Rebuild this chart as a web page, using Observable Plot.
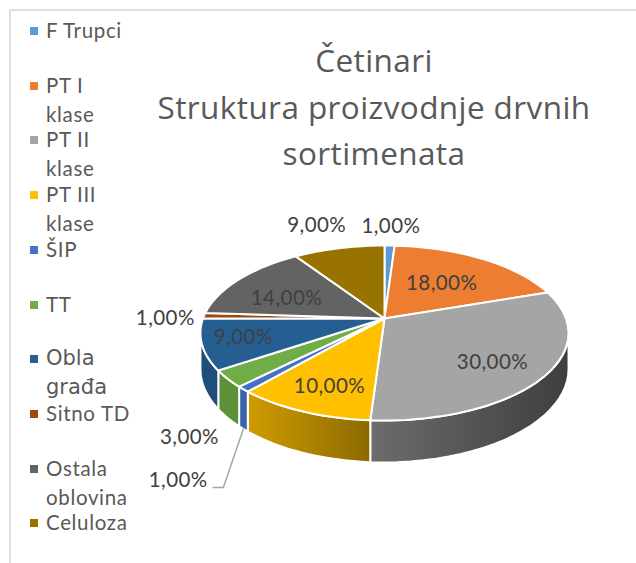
<!DOCTYPE html>
<html><head><meta charset="utf-8">
<script src="https://cdn.jsdelivr.net/npm/d3@7"></script>
<script src="https://cdn.jsdelivr.net/npm/@observablehq/plot@0.6"></script>
<style>
html,body{margin:0;padding:0;background:#fff}
#wrap{position:relative;width:636px;height:563px;overflow:hidden;font-family:Lato,sans-serif;color:#595959}
#wrap svg{position:absolute;left:0;top:0}
#frame{position:absolute;left:9px;top:9px;right:-5px;bottom:-5px;border-left:2px solid #e0e0e0;border-top:2px solid #e0e0e0}
#title{position:absolute;left:124px;width:500px;top:37px;text-align:center;font:31.5px/46.5px "Open Sans",sans-serif;letter-spacing:.4px;color:#595959;margin:0;font-weight:400}
.sw{position:absolute;left:30px;width:8px;height:8px}
.lg{position:absolute;left:46px;font-size:20.5px;letter-spacing:.65px;line-height:29px;white-space:pre}
</style></head><body>
<div id="wrap"><div id="frame"></div><h1 id="title">Četinari<br>Struktura proizvodnje drvnih<br>sortimenata</h1><div id="chart"></div></div>
<script>
// data
const categories = ["F Trupci","PT I klase","PT II klase","PT III klase","ŠIP","TT","Obla građa","Sitno TD","Ostala oblovina","Celuloza"];
const values = [1,18,30,10,1,3,9,1,14,9];
const labels = ["1,00%","18,00%","30,00%","10,00%","1,00%","3,00%","9,00%","1,00%","14,00%","9,00%"];
const colors = ["#5b9bd5","#ed7d31","#a5a5a5","#ffc000","#4472c4","#70ad47","#255e91","#9e480e","#636363","#997300"];
const wallLeft = ["#4a7fb0","#c2652a","#6c6c6c","#cf9c00","#3a62a8","#5c9039","#1e4f7a","#7f3a0b","#505050","#7c5d00"];
const wallRight = ["#4a7fb0","#c2652a","#3e3e3e","#8c6a00","#3a62a8","#5c9039","#1d4e7c","#7f3a0b","#505050","#7c5d00"];
const legendLines = [["F Trupci"],["PT I","klase"],["PT II","klase"],["PT III","klase"],["ŠIP"],["TT"],["Obla","građa"],["Sitno TD"],["Ostala","oblovina"],["Celuloza"]];

// layout (perspective disc and label placement)
const W = 636, H = 563, cx = 384, cy = 318, B = 181.5, A = 85.1, k = -0.1657, D = 35;
const labelRadius = [1.317,0.555,0.726,0.754,1.686,1.43,0.78,1.207,0.613,1.41];
const labelTurn = [0,0,3.5,-1.7,-12.3,-13,1,-2,-6.5,-2];
const tangent = Math.acos(k);

const project = (t, r = 1, drop = 0) => {
  const sx = r * Math.sin(t), sy = -r * Math.cos(t), w = 1 + k * sy;
  return {x: cx + B * sx / w, y: cy + A * sy / w + drop / w};
};
const total = d3.sum(values);
let acc = 0;
const slices = values.map((v, i) => {
  const a0 = acc / total * 2 * Math.PI; acc += v;
  return {i, a0, a1: acc / total * 2 * Math.PI};
});
const arc = (a0, a1, drop = 0) => d3.range(0, 25).map(j => project(a0 + (a1 - a0) * j / 24, 1, drop));

const tops = slices.flatMap(s => [{...project(0, 0), id: s.i, fill: colors[s.i]},
  ...arc(s.a0, s.a1).map(p => ({...p, id: s.i, fill: colors[s.i]}))]);
const walls = slices.flatMap(s => {
  const a0 = Math.max(s.a0, tangent), a1 = Math.min(s.a1, 2 * Math.PI - tangent);
  if (a1 <= a0) return [];
  return [...arc(a0, a1), ...arc(a0, a1, D).reverse()].map(p => ({...p, id: s.i, fill: `url(#wall-${s.i})`}));
});
const textRows = slices.map(s => {
  const p = project((s.a0 + s.a1) / 2 + labelTurn[s.i] * Math.PI / 180, labelRadius[s.i]);
  return {...p, text: labels[s.i]};
});
// leader for the ŠIP label: from the slice's wall to beside its text
const sipWall = project((slices[4].a0 + slices[4].a1) / 2, 1, D);
const leaderEnd = textRows[4];
const leader = [sipWall, {x: sipWall.x - 20, y: leaderEnd.y + 7}, {x: leaderEnd.x + 35, y: leaderEnd.y + 7}];

const chart = Plot.plot({
  width: W, height: H, margin: 0,
  x: {domain: [0, W], range: [0, W], axis: null},
  y: {domain: [0, H], range: [0, H], axis: null},
  color: {type: "identity"},
  style: {background: "transparent", overflow: "visible"},
  marks: [
    Plot.line(walls, {x: "x", y: "y", z: "id", fill: "fill", stroke: "white", strokeWidth: 2, curve: "linear-closed"}),
    Plot.line(tops, {x: "x", y: "y", z: "id", fill: "fill", stroke: "white", strokeWidth: 2, curve: "linear-closed"}),
    Plot.line(leader, {x: "x", y: "y", stroke: "#a6a6a6", strokeWidth: 1.5}),
    Plot.text(textRows, {x: "x", y: "y", text: "text", fill: "#404040", fontSize: 20.5, fontFamily: "Lato, sans-serif", style: {letterSpacing: "0.45px"}})
  ]
});
// wall shading: left-to-right gradient per slice
const defs = d3.select(chart).insert("defs", ":first-child");
colors.forEach((_, i) => {
  const g = defs.append("linearGradient").attr("id", `wall-${i}`).attr("x1", 0).attr("x2", 1).attr("y1", 0).attr("y2", 0);
  g.append("stop").attr("offset", "0%").attr("stop-color", wallLeft[i]);
  g.append("stop").attr("offset", "100%").attr("stop-color", wallRight[i]);
});
d3.select(chart).selectAll("text").style("letter-spacing", "0.45px");
document.getElementById("chart").append(chart);

// legend
const wrap = document.getElementById("wrap");
categories.forEach((c, i) => {
  const mid = 31 + i * 54.7;
  const sw = document.createElement("div"); sw.className = "sw";
  sw.style.top = (mid - 4) + "px"; sw.style.background = colors[i]; wrap.append(sw);
  const t = document.createElement("div"); t.className = "lg";
  t.style.top = (mid - 15) + "px"; t.textContent = legendLines[i].join("\n");
  if (c === "Obla građa") { t.style.fontFamily = "'DejaVu Sans'"; t.style.fontSize = "21px"; t.style.letterSpacing = "0"; }
  wrap.append(t);
});
</script>
</body></html>
